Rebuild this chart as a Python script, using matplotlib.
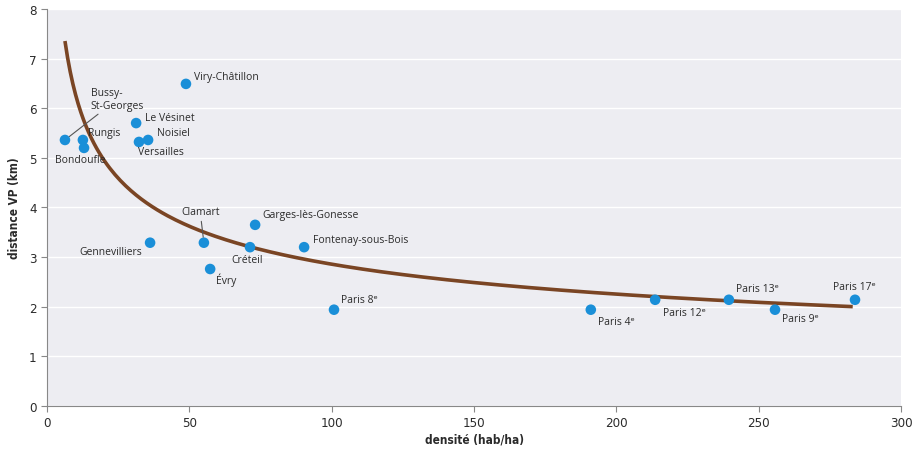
import numpy as np
import matplotlib.pyplot as plt

# Communes : densité (hab/ha) et distance VP (km)
villes = ["Bussy-\nSt-Georges", "Rungis", "Bondoufle", "Le Vésinet", "Versailles",
          "Noisiel", "Viry-Châtillon", "Gennevilliers", "Clamart", "Évry",
          "Créteil", "Garges-lès-Gonesse", "Fontenay-sous-Bois", "Paris 8ᵉ",
          "Paris 4ᵉ", "Paris 12ᵉ", "Paris 13ᵉ", "Paris 9ᵉ", "Paris 17ᵉ"]
densite = [6.3, 12.6, 13.0, 31.3, 32.3, 35.5, 48.8, 36.2, 55.1, 57.3,
           71.3, 73.1, 90.3, 100.8, 191.0, 213.6, 239.5, 255.7, 283.8]
distance = [5.36, 5.36, 5.20, 5.70, 5.32, 5.36, 6.49, 3.29, 3.29, 2.76,
            3.20, 3.65, 3.20, 1.94, 1.94, 2.14, 2.14, 1.94, 2.14]

# courbe de tendance (puissance) : y = a * x^b
a_tend, b_tend = 13.8, -0.342
x_min_tend, x_max_tend = 6.3, 283.0

# décalages des étiquettes (pixels) et alignement
decal = {
    "Bussy-\nSt-Georges": (26, 41, "left"),
    "Rungis": (5, 7, "left"),
    "Bondoufle": (-29, -12, "left"),
    "Le Vésinet": (9, 6, "left"),
    "Versailles": (-1, -10, "left"),
    "Noisiel": (9, 7, "left"),
    "Viry-Châtillon": (8, 7, "left"),
    "Gennevilliers": (-8, -9, "right"),
    "Clamart": (-23, 31, "left"),
    "Évry": (6, -10, "left"),
    "Créteil": (-19, -12, "left"),
    "Garges-lès-Gonesse": (7, 10, "left"),
    "Fontenay-sous-Bois": (9, 8, "left"),
    "Paris 8ᵉ": (7, 10, "left"),
    "Paris 4ᵉ": (7, -12, "left"),
    "Paris 12ᵉ": (8, -13, "left"),
    "Paris 13ᵉ": (7, 11, "left"),
    "Paris 9ᵉ": (7, -9, "left"),
    "Paris 17ᵉ": (-22, 13, "left"),
}
avec_trait = ["Bussy-\nSt-Georges", "Clamart"]

fig = plt.figure(figsize=(9.13, 4.52), dpi=100)
ax = fig.add_axes([0.0515, 0.0996, 0.9355, 0.8784])
ax.set_facecolor("#ededf2")

xs = np.linspace(x_min_tend, x_max_tend, 300)
ax.plot(xs, a_tend * xs ** b_tend, color="#7a4524", lw=2.6, zorder=2,
        solid_capstyle="butt")

ax.scatter(densite, distance, s=58, color="#1a8fd8", zorder=3, edgecolors="none")

police = ["Open Sans", "DejaVu Sans"]
for nom, x, y in zip(villes, densite, distance):
    dx, dy, ha = decal[nom]
    props = None
    if nom in avec_trait:
        props = dict(arrowstyle="-", color="#555555", lw=0.8, shrinkA=1, shrinkB=4)
    ax.annotate(nom, (x, y), xytext=(dx, dy), textcoords="offset pixels",
                ha=ha, va="center", fontsize=7.5, color="#2b2b2b",
                family=police, linespacing=1.15, arrowprops=props, zorder=4)

ax.set_xlim(0, 300)
ax.set_ylim(0, 8)
ax.set_xticks(range(0, 301, 50))
ax.set_yticks(range(0, 9))
ax.grid(axis="y", color="white", lw=1.0)
ax.set_axisbelow(True)
for s in ["top", "right"]:
    ax.spines[s].set_visible(False)
for s in ["left", "bottom"]:
    ax.spines[s].set_color("#888888")
    ax.spines[s].set_linewidth(0.8)
ax.tick_params(colors="#888888", length=4, width=0.8, labelsize=9.5,
               labelcolor="#2b2b2b")
for lab in ax.get_xticklabels() + ax.get_yticklabels():
    lab.set_family("DejaVu Sans")
    lab.set_stretch("condensed")

ax.set_xlabel("densité (hab/ha)", fontsize=8.5, fontweight="bold",
              color="#2b2b2b", labelpad=2, fontstretch="condensed")
ax.set_ylabel("distance VP (km)", fontsize=8.5, fontweight="bold",
              color="#2b2b2b", labelpad=6, fontstretch="condensed")

fig.savefig("out.png", dpi=100)
